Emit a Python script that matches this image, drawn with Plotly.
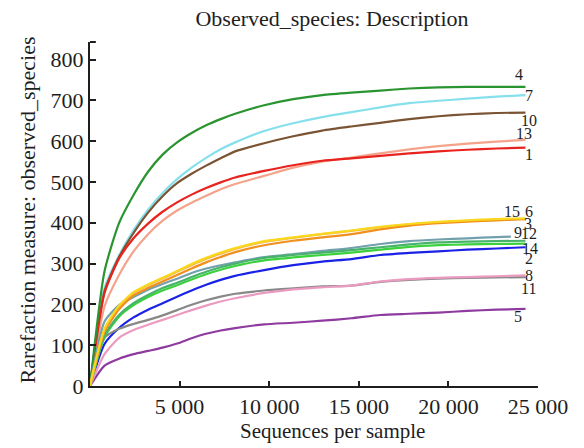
import plotly.graph_objects as go

# Sequences per sample (rarefaction depths)
depths = [0, 810, 1620, 2430, 3240, 4050, 4860, 5670, 6480, 7290, 8100, 9720, 11340,
          12960, 14580, 16200, 17820, 19440, 21060, 22680, 24300]
depths_short = depths[:-1] + [23490]

s1 = [0, 228, 312, 362, 398, 427, 450, 469, 485, 499, 511, 527, 541, 552, 558, 564, 570, 575, 579, 582, 584]
s2 = [0, 103, 142, 168, 187, 203, 219, 234, 248, 260, 270, 284, 296, 305, 311, 321, 326, 330, 334, 337, 340]
s3 = [0, 132, 188, 222, 240, 256, 272, 288, 303, 316, 328, 345, 356, 364, 372, 384, 393, 399, 403, 406, 409]
s4 = [0, 281, 399, 468, 525, 567, 597, 620, 639, 654, 667, 688, 703, 713, 719, 724, 729, 732, 733, 733, 733]
s5 = [0, 50, 67, 78, 86, 94, 104, 117, 128, 136, 142, 151, 155, 160, 166, 174, 177, 180, 184, 187, 189]
s6 = [0, 140, 197, 230, 249, 265, 282, 299, 314, 327, 338, 355, 364, 373, 381, 390, 397, 402, 406, 409, 411]
s7 = [0, 240, 320, 382, 432, 473, 507, 535, 559, 580, 597, 625, 644, 659, 671, 683, 693, 699, 704, 709, 713]
s8 = [0, 78, 118, 137, 150, 162, 174, 186, 197, 207, 215, 228, 237, 242, 246, 256, 262, 265, 267, 269, 271]
s9 = [0, 158, 198, 218, 236, 250, 263, 277, 288, 296, 303, 316, 323, 331, 338, 348, 355, 359, 362, 365, 366]
s10 = [0, 232, 316, 375, 425, 465, 497, 520, 540, 558, 575, 595, 612, 626, 636, 645, 654, 661, 666, 669, 670]
s11 = [0, 118, 140, 152, 162, 173, 186, 199, 210, 219, 226, 234, 239, 244, 246, 255, 260, 263, 265, 266, 267]
s12 = [0, 124, 174, 203, 223, 240, 253, 267, 280, 291, 300, 314, 321, 327, 333, 340, 347, 352, 354, 355, 356]
s13 = [0, 195, 272, 330, 372, 405, 430, 449, 466, 482, 495, 515, 535, 550, 560, 570, 580, 588, 594, 599, 603]
s14 = [0, 120, 170, 198, 218, 234, 247, 261, 274, 285, 294, 308, 315, 321, 327, 334, 341, 345, 347, 348, 349]
s15 = [0, 138, 194, 228, 247, 263, 280, 296, 311, 324, 336, 353, 363, 372, 380, 389, 396, 401, 405, 407, 408]

series_names = ["1", "2", "3", "4", "5", "6", "7", "8", "9", "10", "11", "12", "13", "14", "15"]
series_values = [s1, s2, s3, s4, s5, s6, s7, s8, s9, s10, s11, s12, s13, s14, s15]
series_x = [depths, depths, depths, depths, depths, depths, depths, depths, depths_short,
            depths, depths, depths, depths, depths, depths_short]
colors = ["#e8231e", "#1a22e6", "#f0901e", "#2a9430", "#8e3a9e", "#f9d71c", "#86e0ec",
          "#eb9ac0", "#72a0ac", "#7b5434", "#888888", "#46b36a", "#f4a38a", "#3ad13a", "#f8b84e"]
# label offsets from each line's end (pixels)
label_dx = [4, 4, 3, -6, -7, 4, 4, 4, 7, 4, 3, 4, -1, 5, 1]
label_dy = [-7, -11, -4, 12, -8, 7, 0, 0, 4, -8, -11, 7, 6, -5, 8]

xticks = [5000, 10000, 15000, 20000, 25000]
xticktext = ["5 000", "10 000", "15 000", "20 000", "25 000"]
yticks = [0, 100, 200, 300, 400, 500, 600, 700, 800]

FONT = "Liberation Serif, Times New Roman, serif"
INK = "#1e1e1e"

fig = go.Figure()
draw_order = [4, 6, 9, 12, 0, 3, 1, 10, 7, 8, 13, 11, 14, 2, 5]
for i in draw_order:
    fig.add_trace(go.Scatter(x=series_x[i], y=series_values[i], mode="lines",
                             line=dict(color=colors[i], width=2.2, shape="spline", smoothing=0.6),
                             name=series_names[i], showlegend=False, hoverinfo="skip"))

for i, name in enumerate(series_names):
    fig.add_annotation(x=series_x[i][-1], y=series_values[i][-1], text=name, showarrow=False,
                       xshift=label_dx[i], yshift=label_dy[i], xanchor="center", yanchor="middle",
                       font=dict(family=FONT, size=16, color=INK))

L, R, T, B = 89.5, 46, 41.7, 61.5
plot_w = 584 - L - R
plot_h = 448 - T - B
fig.add_annotation(x=(332 - L) / plot_w, y=(448 - B - 432) / plot_h, xref="paper", yref="paper",
                   text="Sequences per sample", showarrow=False, xanchor="center", yanchor="middle",
                   font=dict(family=FONT, size=21, color=INK))
fig.add_annotation(x=(27 - L) / plot_w, y=(448 - B - 210) / plot_h, xref="paper", yref="paper",
                   text="Rarefaction measure: observed_species", textangle=-90, showarrow=False,
                   xanchor="center", yanchor="middle",
                   font=dict(family=FONT, size=22, color=INK))
fig.update_layout(
    width=584, height=448,
    margin=dict(l=L, r=R, t=T, b=B),
    paper_bgcolor="white", plot_bgcolor="white",
    title=dict(text="Observed_species: Description", x=332 / 584, xref="container", xanchor="center",
               y=1 - 18 / 448, yref="container", yanchor="middle",
               font=dict(family=FONT, size=22, color=INK)),
    xaxis=dict(range=[0, 25000], tickvals=xticks, ticktext=xticktext, ticks="inside", ticklen=5,
               tickwidth=2, tickcolor=INK, showline=True, linewidth=2, linecolor=INK,
               showgrid=False, zeroline=False, tickfont=dict(family=FONT, size=22, color=INK)),
    yaxis=dict(range=[0, 843], tickvals=yticks, ticks="inside", ticklen=6, tickwidth=2,
               tickcolor=INK, showline=True, linewidth=2, linecolor=INK, showgrid=False,
               zeroline=False, tickfont=dict(family=FONT, size=22, color=INK)),
)
# cap tick at the top end of the y axis
fig.add_shape(type="line", xref="paper", yref="paper", x0=0, x1=0.013, y0=1, y1=1,
              line=dict(color=INK, width=2))

fig.write_html("out.html")
